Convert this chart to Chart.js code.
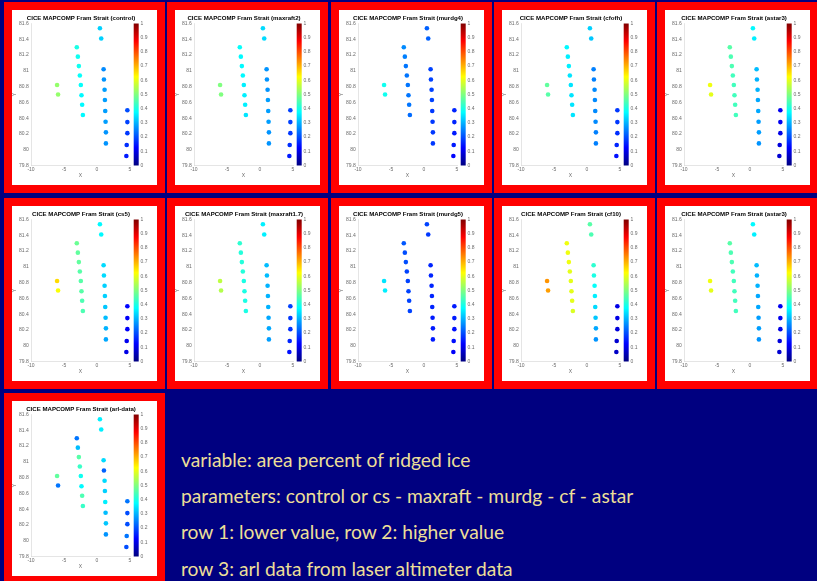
<!DOCTYPE html>
<html>
<head>
<meta charset="utf-8">
<script src="https://cdn.jsdelivr.net/npm/chart.js@4"></script>
<style>
  html, body { margin: 0; padding: 0; }
  body { width: 817px; height: 581px; background: #000080; position: relative; overflow: hidden; }
  .frame { position: absolute; background: #ff0000; }
  .sheet { position: absolute; background: #ffffff; }
  .sheet canvas { display: block; }
  .note { position: absolute; left: 181px; color: #ecdf98; font-family: Lato, "Open Sans", sans-serif; white-space: nowrap; line-height: 1; }
</style>
</head>
<body>
<script>
// Station positions (X, Y) shared by every map
const stationX = [-6.05, -5.9,
  -3.06, -2.9, -2.75, -2.6, -2.45, -2.35, -2.25, -2.14,
  0.44, 0.64,
  1.0, 1.05, 1.15, 1.2, 1.25, 1.3, 1.35, 1.35,
  4.6, 4.6, 4.6, 4.5, 4.45];
const stationY = [80.82, 80.70,
  81.30, 81.18, 81.06, 80.94, 80.82, 80.69, 80.57, 80.44,
  81.54, 81.41,
  81.02, 80.89, 80.76, 80.63, 80.49, 80.355, 80.22, 80.08,
  80.50, 80.35, 80.21, 80.06, 79.92];

// Area fraction of ridged ice at each station, one list per run
const valuesControl = [0.52, 0.52, 0.40, 0.39, 0.39, 0.38, 0.38, 0.37, 0.37, 0.37, 0.33, 0.33,
  0.26, 0.27, 0.28, 0.28, 0.28, 0.28, 0.27, 0.27, 0.20, 0.19, 0.18, 0.17, 0.15];
const valuesMaxraft2 = [0.50, 0.50, 0.38, 0.37, 0.37, 0.37, 0.36, 0.36, 0.36, 0.35, 0.34, 0.34,
  0.27, 0.27, 0.27, 0.28, 0.28, 0.28, 0.27, 0.27, 0.19, 0.19, 0.18, 0.17, 0.15];
const valuesMurdg4 = [0.39, 0.39, 0.26, 0.25, 0.24, 0.24, 0.24, 0.24, 0.24, 0.23, 0.22, 0.22,
  0.19, 0.19, 0.19, 0.19, 0.18, 0.18, 0.18, 0.18, 0.16, 0.16, 0.15, 0.15, 0.13];
const valuesCfofh = [0.47, 0.46, 0.37, 0.36, 0.36, 0.35, 0.35, 0.35, 0.35, 0.35, 0.33, 0.32,
  0.25, 0.25, 0.26, 0.26, 0.26, 0.26, 0.25, 0.25, 0.18, 0.18, 0.17, 0.16, 0.14];
const valuesAstar3 = [0.61, 0.60, 0.46, 0.45, 0.45, 0.44, 0.44, 0.44, 0.44, 0.44, 0.37, 0.36,
  0.31, 0.30, 0.30, 0.29, 0.29, 0.28, 0.28, 0.27, 0.11, 0.11, 0.10, 0.09, 0.08];
const valuesCs5 = [0.66, 0.62, 0.48, 0.47, 0.47, 0.46, 0.46, 0.46, 0.45, 0.45, 0.37, 0.37,
  0.34, 0.34, 0.33, 0.33, 0.32, 0.31, 0.30, 0.29, 0.13, 0.12, 0.12, 0.11, 0.10];
const valuesMaxraft17 = [0.56, 0.55, 0.42, 0.41, 0.41, 0.41, 0.40, 0.40, 0.40, 0.40, 0.36, 0.36,
  0.31, 0.31, 0.30, 0.30, 0.30, 0.29, 0.29, 0.28, 0.19, 0.18, 0.17, 0.16, 0.14];
const valuesMurdg5 = [0.35, 0.36, 0.21, 0.20, 0.20, 0.19, 0.19, 0.19, 0.19, 0.19, 0.19, 0.18,
  0.16, 0.16, 0.16, 0.16, 0.16, 0.15, 0.15, 0.15, 0.15, 0.15, 0.14, 0.14, 0.12];
const valuesCf10 = [0.73, 0.72, 0.61, 0.61, 0.61, 0.60, 0.60, 0.60, 0.60, 0.59, 0.46, 0.45,
  0.42, 0.40, 0.38, 0.36, 0.34, 0.32, 0.29, 0.27, 0.10, 0.10, 0.09, 0.08, 0.07];
const valuesArl = [0.47, 0.24, 0.24, 0.31, 0.46, 0.43, 0.39, 0.37, 0.45, 0.43, 0.36, 0.36,
  0.34, 0.22, 0.34, 0.33, 0.36, 0.31, 0.32, 0.27, 0.24, 0.20, 0.20, 0.24, 0.20];

// Run names shown in the map titles, in grid order
const runNames = ['control', 'maxraft2', 'murdg4', 'cfofh', 'astar3',
  'cs5', 'maxraft1.7', 'murdg5', 'cf10', 'astar3', 'arl-data'];
const runValues = [valuesControl, valuesMaxraft2, valuesMurdg4, valuesCfofh, valuesAstar3,
  valuesCs5, valuesMaxraft17, valuesMurdg5, valuesCf10, valuesAstar3, valuesArl];

// Tick labels
const xTickLabels = ['-10', '-5', '0', '5'];
const yTickLabels = ['79.8', '80', '80.2', '80.4', '80.6', '80.8', '81', '81.2', '81.4', '81.6'];
const barTickLabels = ['0', '0.1', '0.2', '0.3', '0.4', '0.5', '0.6', '0.7', '0.8', '0.9', '1'];

// Caption lines under the maps
const captionLines = [
  'variable: area percent of ridged ice',
  'parameters: control or cs - maxraft - murdg - cf - astar',
  'row 1: lower value, row 2: higher value',
  'row 3: arl data from laser altimeter data'
];

// Jet colour map, v in [0, 1]
function jet(v) {
  const c = (t) => Math.max(0, Math.min(1, t));
  const r = c(1.5 - Math.abs(4 * v - 3));
  const g = c(1.5 - Math.abs(4 * v - 2));
  const b = c(1.5 - Math.abs(4 * v - 1));
  return 'rgb(' + Math.round(r * 255) + ',' + Math.round(g * 255) + ',' + Math.round(b * 255) + ')';
}

// Draws the colour bar beside the plot, aligned with the 0..1 scale on the right
const colorBarPlugin = {
  id: 'colorBar',
  afterDraw(chart) {
    const s = chart.scales.cb;
    const ctx = chart.ctx;
    const x0 = chart.chartArea.right + 3.7;
    const w = 5;
    const grad = ctx.createLinearGradient(0, s.getPixelForValue(0), 0, s.getPixelForValue(1));
    [0, 0.125, 0.375, 0.625, 0.875, 1].forEach(t => grad.addColorStop(t, jet(t)));
    ctx.save();
    ctx.fillStyle = grad;
    ctx.fillRect(x0, s.getPixelForValue(1), w, s.getPixelForValue(0) - s.getPixelForValue(1));
    ctx.restore();
  }
};

const tickFont = { family: '"Liberation Sans", Arial, sans-serif', size: 5 };
const tickColor = '#6a6a6a';

const SHEET_W = 145, SHEET_H = 175;

function makeMap(idx) {
  const col = idx % 5, row = Math.floor(idx / 5);
  const sx = Math.round(12 + col * 163.25);
  const sy = Math.round(10 + row * 195.5);

  const frame = document.createElement('div');
  frame.className = 'frame';
  frame.style.left = (sx - 8) + 'px';
  frame.style.top = (sy - 8) + 'px';
  frame.style.width = (SHEET_W + 16) + 'px';
  frame.style.height = (SHEET_H + 16) + 'px';
  document.body.appendChild(frame);

  const sheet = document.createElement('div');
  sheet.className = 'sheet';
  sheet.style.left = sx + 'px';
  sheet.style.top = sy + 'px';
  sheet.style.width = SHEET_W + 'px';
  sheet.style.height = SHEET_H + 'px';
  document.body.appendChild(sheet);

  const canvas = document.createElement('canvas');
  canvas.width = SHEET_W;
  canvas.height = SHEET_H;
  sheet.appendChild(canvas);

  const vals = runValues[idx];
  new Chart(canvas, {
    type: 'scatter',
    data: {
      datasets: [{
        data: stationX.map((x, i) => ({ x: x, y: stationY[i] })),
        pointBackgroundColor: vals.map(jet),
        pointBorderWidth: 0,
        pointRadius: 2.3,
        pointHoverRadius: 2.3
      }]
    },
    options: {
      responsive: false,
      animation: false,
      devicePixelRatio: 1,
      layout: { padding: { left: 0, right: 7, top: 0, bottom: 0 } },
      events: [],
      plugins: {
        legend: { display: false },
        tooltip: { enabled: false },
        title: {
          display: true,
          text: 'CICE MAPCOMP Fram Strait (' + runNames[idx] + ')',
          color: '#000000',
          font: { family: '"Liberation Sans", Arial, sans-serif', size: 6.1, weight: 'bold', lineHeight: 1.1 },
          padding: { top: 5.3, bottom: 1.5 }
        }
      },
      scales: {
        x: {
          type: 'linear', min: -10, max: 5,
          ticks: { stepSize: 5, font: tickFont, color: tickColor, padding: 1.5, maxRotation: 0,
            callback: (v, i) => xTickLabels[i] },
          grid: { display: false, drawTicks: false },
          border: { display: true, color: '#d4d4d4', width: 0.6 },
          title: { display: true, text: 'X', font: tickFont, color: tickColor, padding: { top: 0, bottom: 6 } },
          afterFit: (s) => { s.height = 19.5; }
        },
        y: {
          type: 'linear', min: 79.8, max: 81.6,
          ticks: { stepSize: 0.2, font: tickFont, color: tickColor, padding: 2.3,
            callback: (v, i) => yTickLabels[i] },
          grid: { display: false, drawTicks: false },
          border: { display: true, color: '#d4d4d4', width: 0.6 },
          title: { display: true, text: 'Y', font: tickFont, color: tickColor, padding: { top: 0, bottom: 0 } },
          afterFit: (s) => { s.width = 19; }
        },
        cb: {
          type: 'linear', position: 'right', min: 0, max: 1,
          ticks: { stepSize: 0.1, font: tickFont, color: tickColor, padding: 10.5,
            callback: (v, i) => barTickLabels[i] },
          grid: { display: false, drawTicks: false },
          border: { display: false },
          afterFit: (s) => { s.width = 20; }
        }
      }
    },
    plugins: [colorBarPlugin]
  });
}

for (let i = 0; i < runNames.length; i++) makeMap(i);

// Caption text, sized so the first two lines span their intended widths on average
(function () {
  const family = 'Lato, "Open Sans", sans-serif';
  const m = document.createElement('canvas').getContext('2d');
  m.font = '20px ' + family;
  const w = m.measureText(captionLines[0]).width + m.measureText(captionLines[1]).width;
  const size = 20 * 743 / w;
  const centers = [459.5, 495.5, 531.5, 568.5];
  captionLines.forEach((t, i) => {
    const d = document.createElement('div');
    d.className = 'note';
    d.style.fontSize = size.toFixed(2) + 'px';
    d.style.top = (centers[i] - size / 2) + 'px';
    d.textContent = t;
    document.body.appendChild(d);
  });
})();
</script>
</body>
</html>
